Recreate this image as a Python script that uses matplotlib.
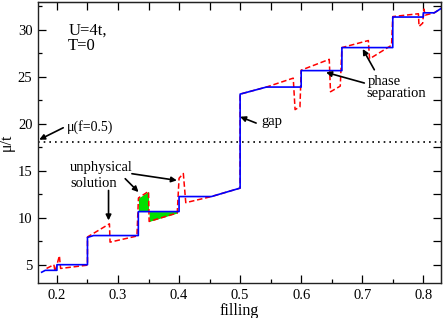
import matplotlib
matplotlib.use("Agg")
import matplotlib.pyplot as plt
import numpy as np

# ---- data ----
blue_f = [0.175, 0.181, 0.2, 0.2, 0.25, 0.25, 0.26, 0.3333, 0.3333, 0.4, 0.4, 0.453,
          0.5, 0.5, 0.543, 0.6, 0.6, 0.6667, 0.6667, 0.75, 0.75, 0.8, 0.8, 0.818, 0.83]
blue_mu = [4.2, 4.4, 4.4, 5.0, 5.0, 7.9, 8.1, 8.1, 10.65, 10.65, 12.25, 12.25,
           13.15, 23.15, 23.9, 23.9, 25.65, 25.65, 28.1, 28.1, 31.35, 31.35, 31.8, 31.8, 32.3]

red_f = [0.183, 0.195, 0.197, 0.204, 0.206, 0.25, 0.25, 0.286, 0.287, 0.331, 0.3335,
         0.35, 0.351, 0.397, 0.4, 0.407, 0.411, 0.453, 0.5, 0.5, 0.543, 0.587, 0.59,
         0.598, 0.6, 0.646, 0.648, 0.664, 0.6667, 0.71, 0.712, 0.748, 0.75, 0.792,
         0.793, 0.799, 0.801, 0.803, 0.806, 0.818, 0.83]
red_mu = [4.6, 5.0, 4.25, 5.95, 4.6, 4.95, 7.95, 9.35, 7.4, 8.05, 12.1,
          12.8, 9.6, 10.5, 14.2, 14.7, 11.6, 12.25, 13.15, 23.15, 23.9, 24.85, 21.5,
          21.8, 25.7, 26.85, 23.4, 24.0, 28.1, 28.85, 26.9, 28.35, 31.4, 31.7,
          30.35, 30.7, 32.2, 31.55, 31.6, 31.8, 32.3]

green1_f = [0.3335, 0.35]
green1_top = [12.1, 12.8]
green2_f = [0.351, 0.397]
green2_bottom = [9.6, 10.5]
flat_mu = 10.65

mu_half = 18.04

xticks = [0.2, 0.3, 0.4, 0.5, 0.6, 0.7, 0.8]
yticks = [5, 10, 15, 20, 25, 30]

plt.rcParams['font.family'] = ['Liberation Serif', 'DejaVu Serif']
plt.rcParams['mathtext.fontset'] = 'stix'

fig = plt.figure(figsize=(4.43, 3.18), dpi=100)
ax = fig.add_axes([0.0858, 0.110, 0.9097, 0.8837])

ax.fill_between(green1_f, green1_top, flat_mu, color='#00e000', lw=0, zorder=1)
ax.fill_between(green2_f, green2_bottom, flat_mu, color='#00e000', lw=0, zorder=1)

ax.plot(red_f, red_mu, color='#ff0000', lw=1.1, dashes=(3.6, 1.8), zorder=2)
ax.plot(blue_f, blue_mu, color='#0000ff', lw=1.2, zorder=3)
ax.axhline(mu_half, color='k', lw=1.2, dashes=(1, 2.4), zorder=2)

ax.set_xlim(0.169, 0.829)
ax.set_ylim(3.05, 32.95)
ax.set_xticks(xticks)
ax.set_xticklabels([f"{v:.1f}" for v in xticks])
ax.set_yticks(yticks)
ax.set_xticks(np.arange(0.2, 0.83, 0.05), minor=True)
ax.set_yticks(np.arange(5, 33, 2.5), minor=True)
ax.tick_params(which='major', direction='in', length=5.5, width=0.9, labelsize=10.5, pad=4)
ax.tick_params(which='minor', direction='in', length=3, width=0.9)
for s in ax.spines.values():
    s.set_linewidth(1.0)
    s.set_color('#222222')

top = ax.secondary_xaxis('top')
top.set_xticks(np.arange(0.2, 0.83, 0.05))
top.set_xticks([], minor=True)
top.tick_params(direction='in', length=5.5, width=0.9, labeltop=False)
right = ax.secondary_yaxis('right')
right.set_yticks(np.arange(5, 33, 2.5))
right.set_yticks([], minor=True)
right.tick_params(direction='in', length=5.5, width=0.9, labelright=False)

ax.set_xlabel('filling', fontsize=11.5, labelpad=1)
ax.set_ylabel('μ/t', fontsize=11.5, labelpad=2)

ax.text(0.2185, 29.47, 'U=4t,', fontsize=12, va='baseline')
ax.text(0.2185, 27.8, 'T=0', fontsize=12, va='baseline')
ax.text(0.2169, 19.29, 'μ(f=0.5)', fontsize=10, va='baseline')
ax.text(0.5344, 19.9, 'gap', fontsize=10.5, va='baseline')
ax.text(0.709, 24.15, 'phase', fontsize=10.5, va='baseline')
ax.text(0.7074, 22.8, 'separation', fontsize=10.5, va='baseline')
ax.text(0.2218, 14.93, 'unphysical', fontsize=10.5, va='baseline')
ax.text(0.2218, 13.27, 'solution', fontsize=10.5, va='baseline')

arrows = [((0.2103, 19.57), (0.171, 18.3)),
          ((0.5262, 20.07), (0.50, 20.74)),
          ((0.7198, 25.74), (0.7008, 27.95)),
          ((0.7034, 24.33), (0.6408, 25.46)),
          ((0.2845, 12.9), (0.2845, 9.71)),
          ((0.3118, 14.15), (0.3336, 12.73)),
          ((0.3228, 14.68), (0.3964, 13.97))]
for tail, head in arrows:
    ax.annotate('', xy=head, xytext=tail,
                arrowprops=dict(arrowstyle='-|>', color='k', lw=1.2,
                                mutation_scale=8, shrinkA=0, shrinkB=0),
                zorder=5)

fig.savefig('out.png', dpi=100)
